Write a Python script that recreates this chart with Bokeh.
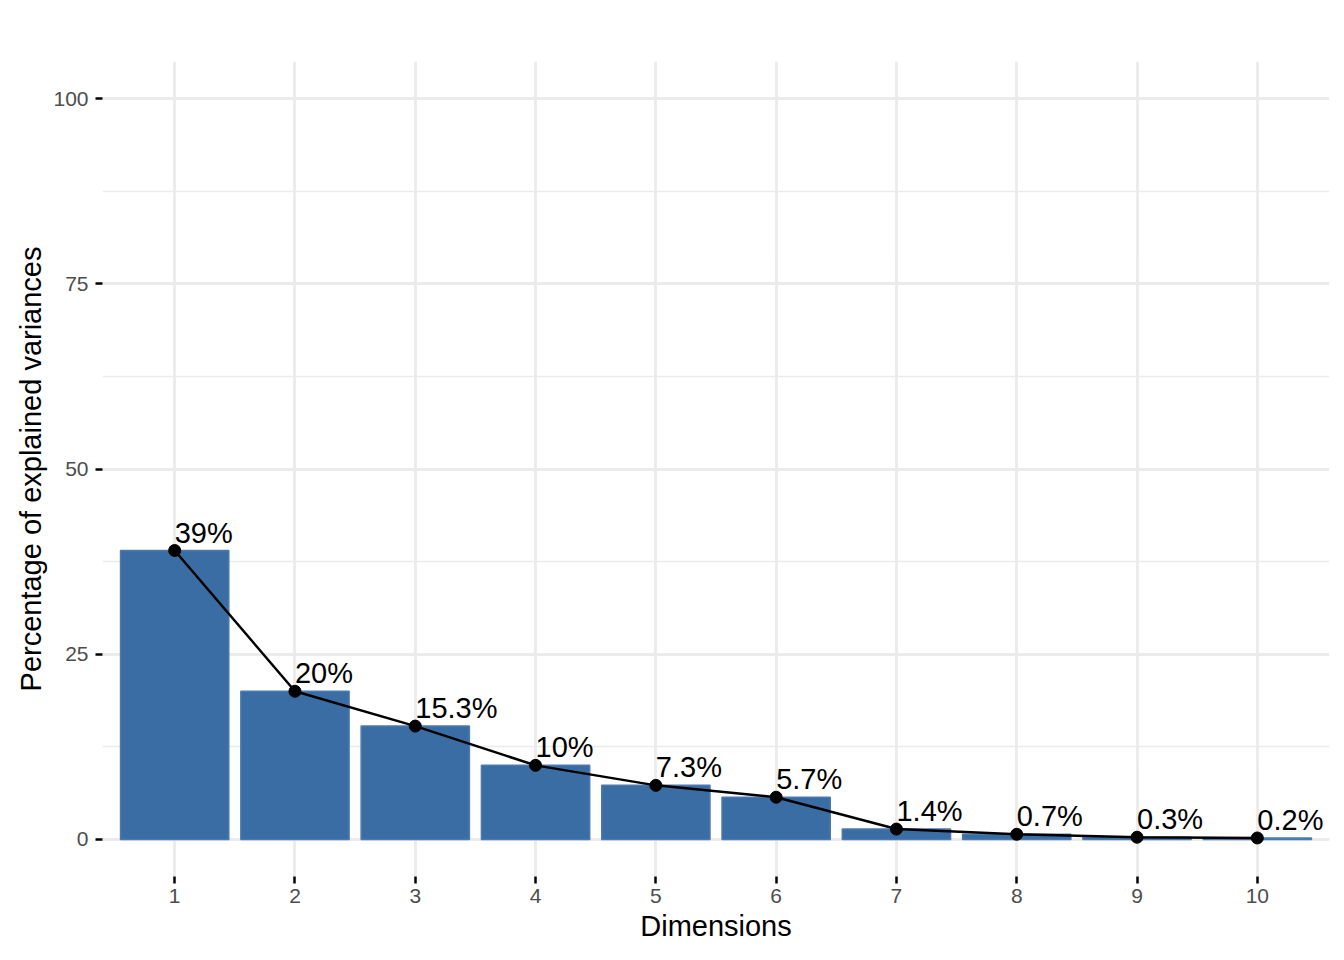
from bokeh.plotting import figure
from bokeh.models import FixedTicker, ColumnDataSource, Range1d
from bokeh.core.properties import value
from bokeh.embed import file_html
from bokeh.resources import INLINE

dimensions = [1, 2, 3, 4, 5, 6, 7, 8, 9, 10]
variances = [39.0, 20.0, 15.3, 10.0, 7.3, 5.7, 1.4, 0.7, 0.3, 0.2]
labels = ["39%", "20%", "15.3%", "10%", "7.3%", "5.7%", "1.4%", "0.7%", "0.3%", "0.2%"]
y_ticks = [0, 25, 50, 75, 100]
y_minor = [12.5, 37.5, 62.5, 87.5]

src = ColumnDataSource(dict(x=dimensions, y=variances, lab=labels))

FONT = "Liberation Sans"

p = figure(width=1336, height=952, output_backend="svg", toolbar_location=None,
           x_range=Range1d(0.4, 10.6), y_range=Range1d(-5, 105),
           min_border_left=102, min_border_right=7, min_border_top=61, min_border_bottom=76,
           background_fill_color="white", border_fill_color="white")
p.outline_line_color = None

p.vbar(x="x", top="y", width=0.9, bottom=0, source=src,
       fill_color="#3B6DA5", line_color="#4A7AB0", line_width=1.5)
p.line(x="x", y="y", source=src, line_color="black", line_width=2.5)
p.scatter(x="x", y="y", source=src, size=12, fill_color="black", line_color="black")
p.text(x="x", y="y", text="lab", source=src, text_font=value(FONT), text_font_size="29px",
       text_align="left", text_baseline="alphabetic", y_offset=-18, text_color="black")

# axes
p.xaxis.ticker = FixedTicker(ticks=dimensions)
p.yaxis.ticker = FixedTicker(ticks=y_ticks, minor_ticks=y_minor)
for ax in (p.xaxis[0], p.yaxis[0]):
    ax.axis_line_color = None
    ax.major_tick_line_color = "black"
    ax.major_tick_line_width = 2.5
    ax.major_tick_in = 0
    ax.major_tick_out = 7
    ax.minor_tick_line_color = None
    ax.major_label_text_font = FONT
    ax.major_label_text_font_size = "21px"
    ax.major_label_text_color = "#4D4D4D"
    ax.axis_label_text_font = FONT
    ax.axis_label_text_font_size = "29px"
    ax.axis_label_text_font_style = "normal"
    ax.axis_label_text_color = "black"

p.xaxis.axis_label = "Dimensions"
p.yaxis.axis_label = "Percentage of explained variances"
p.xaxis.major_label_standoff = 5
p.xaxis.axis_label_standoff = 4
p.yaxis.major_label_standoff = 7
p.yaxis.axis_label_standoff = 3

# grid
p.xgrid.grid_line_color = "#EBEBEB"
p.xgrid.grid_line_width = 2.8
p.ygrid.grid_line_color = "#EBEBEB"
p.ygrid.grid_line_width = 2.8
p.ygrid.minor_grid_line_color = "#EBEBEB"
p.ygrid.minor_grid_line_width = 1.5
p.xgrid.level = "underlay"
p.ygrid.level = "underlay"

open("out.html", "w").write(file_html(p, INLINE))
